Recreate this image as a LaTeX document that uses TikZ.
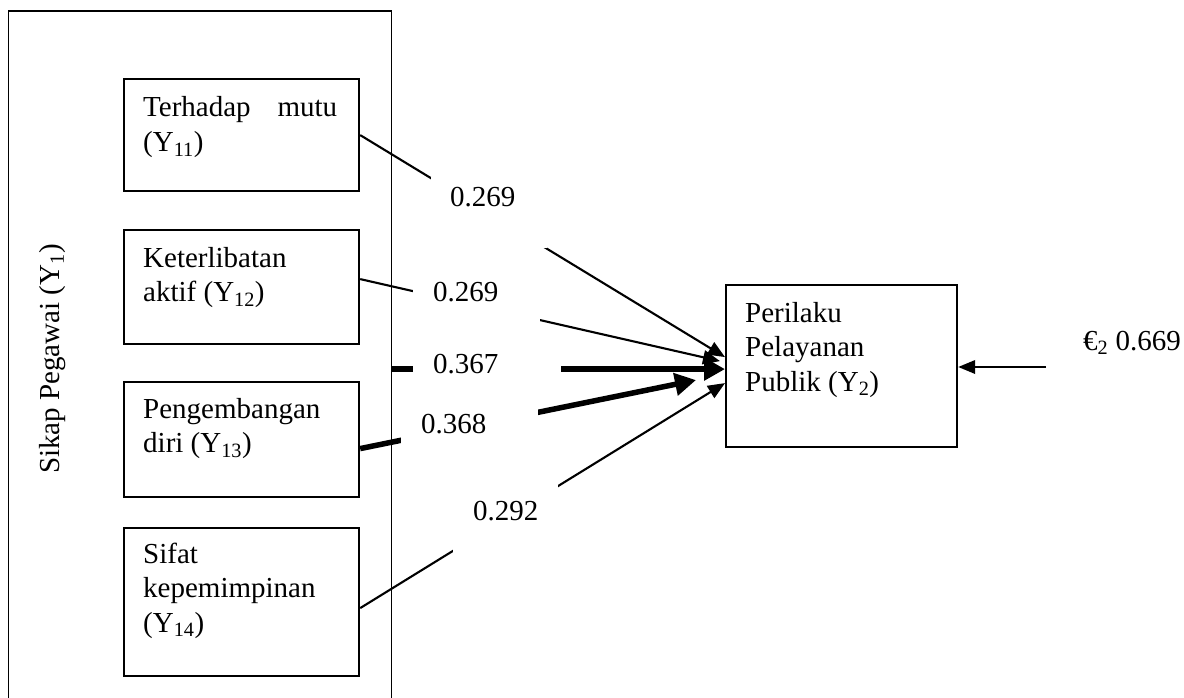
\documentclass[tikz,border=0pt]{standalone}
\usepackage{fontspec}
\setmainfont{Liberation Serif}
\usetikzlibrary{arrows.meta}
\begin{document}
\begin{tikzpicture}[x=1pt,y=-1pt,
  every node/.style={font=\fontsize{29}{34.5}\selectfont},
  frame/.style={draw, line width=1.6pt, inner sep=0pt, anchor=north west},
  ibox/.style={draw, line width=2.2pt, inner sep=0pt, anchor=north west, minimum width=235.5pt},
  txt/.style={inner sep=0pt, anchor=base west},
  thinarrow/.style={line width=2.1pt, -{Triangle[length=17pt,width=14pt]}},
  thickarrow/.style={line width=6pt, -{Triangle[length=21pt,width=22pt]}},
  epsarrow/.style={line width=2.1pt, -{Triangle[length=17pt,width=13.5pt]}},
  lblmask/.style={fill=white}]
\clip (0,0) rectangle (1184,698);
% outer frame
\node[frame, minimum width=383.2pt, minimum height=740pt] (outer) at (7.5,10) {};
\node[rotate=90, anchor=base, inner sep=0pt] (sikap) at (59,359) {Sikap Pegawai (Y\textsubscript{1})};
% inner boxes
\node[ibox, minimum height=112pt] (b1) at (122.5,78) {};
\node[ibox, minimum height=114pt] (b2) at (122.5,229) {};
\node[ibox, minimum height=115pt] (b3) at (122.5,381) {};
\node[ibox, minimum height=148pt] (b4) at (122.5,527) {};
\node[ibox, minimum width=231pt, minimum height=162pt] (y2) at (725,284) {};
% texts
\node[txt] (t1) at (143,117) {\begin{tabular}[t]{@{}l@{}}\makebox[194pt][s]{Terhadap mutu}\\(Y\textsubscript{11})\end{tabular}};
\node[txt] (t2) at (143,267) {\begin{tabular}[t]{@{}l@{}}Keterlibatan\\aktif (Y\textsubscript{12})\end{tabular}};
\node[txt] (t3) at (143,418) {\begin{tabular}[t]{@{}l@{}}Pengembangan\\diri (Y\textsubscript{13})\end{tabular}};
\node[txt] (t4) at (143,563) {\begin{tabular}[t]{@{}l@{}}Sifat\\kepemimpinan\\(Y\textsubscript{14})\end{tabular}};
\node[txt] (ty2) at (745,322) {\begin{tabular}[t]{@{}l@{}}Perilaku\\Pelayanan\\Publik (Y\textsubscript{2})\end{tabular}};
% connectors
\coordinate (e1) at ([yshift=9pt]y2.west);
\coordinate (e2) at ([xshift=-5pt,yshift=5pt]y2.west);
\coordinate (e3) at ([yshift=-3pt]y2.west);
\coordinate (e4) at ([xshift=-29pt,yshift=-14pt]y2.west);
\coordinate (e5) at ([yshift=-17pt]y2.west);
\draw[thinarrow] (b1.east) -- (e1);
\draw[thinarrow] ([yshift=8pt]b2.east) -- (e2);
\draw[thickarrow] (outer.east |- e3) -- (e3);
\draw[thickarrow, line width=5.5pt] ([yshift=-9pt]b3.east) -- (e4);
\draw[thinarrow] ([yshift=-6pt]b4.east) -- (e5);
% label masks
\fill[lblmask] (431,177) rectangle (547,248);
\fill[lblmask] (413,270) rectangle (540,330);
\fill[lblmask] (413,340) rectangle (561,398);
\fill[lblmask] (401,400) rectangle (538,460);
\fill[lblmask] (453,484) rectangle (558,560);
% labels
\node[txt] (v1) at (450,207) {0.269};
\node[txt] (v2) at (433,301) {0.269};
\node[txt] (v3) at (433,373) {0.367};
\node[txt] (v4) at (421,433) {0.368};
\node[txt] (v5) at (473,520) {0.292};
% error term
\node[txt] (eps) at (1083,350) {€\textsubscript{2} 0.669};
\coordinate (epsin) at ([xshift=-37pt,yshift=-17pt]eps.base west);
\draw[epsarrow] (epsin) -- (y2.east |- epsin);
\end{tikzpicture}
\end{document}
